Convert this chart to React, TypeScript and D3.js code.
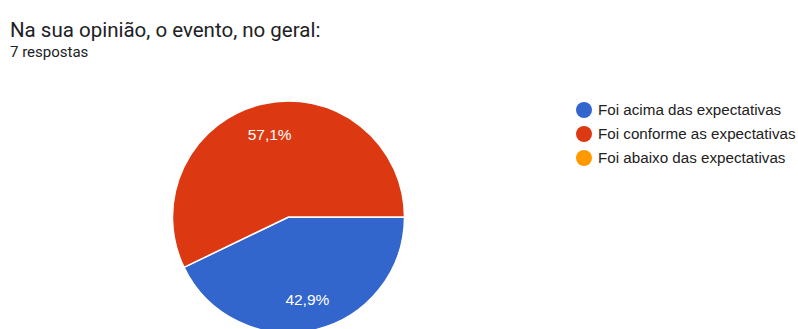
import React, { useEffect } from "react";
import * as d3 from "d3";

const title = "Na sua opinião, o evento, no geral:";
const subtitle = "7 respostas";
const categories = ["Foi acima das expectativas", "Foi conforme as expectativas", "Foi abaixo das expectativas"];
const values = [3, 4, 0];
const colors = ["#3366cc", "#dc3912", "#ff9900"];

const W = 798;
const H = 329;

export default function App() {
  useEffect(() => {
    document.body.style.margin = "0";
  }, []);

  const cx = 288.5;
  const cy = 217;
  const R = 116;
  const total = d3.sum(values);

  const pie = d3
    .pie<number>()
    .sort(null)
    .startAngle(Math.PI / 2)
    .endAngle(Math.PI / 2 + 2 * Math.PI)
    .value((d) => d);
  const arcs = pie(values);
  const arc = d3.arc<d3.PieArcDatum<number>>().innerRadius(0).outerRadius(R);
  const labelArc = d3.arc<d3.PieArcDatum<number>>().innerRadius(R * 0.73).outerRadius(R * 0.73);

  const legendY = d3.scaleBand<number>().domain(d3.range(categories.length)).range([98, 170]);
  const fmt = (v: number) => ((v / total) * 100).toFixed(1).replace(".", ",") + "%";

  return (
    <svg width={W} height={H} style={{ display: "block", fontFamily: "Roboto, Arial, sans-serif" }}>
      <rect width={W} height={H} fill="#ffffff" />
      <text x={10} y={37} fontSize={20.5} fill="#202124">
        {title}
      </text>
      <text x={10} y={57} fontSize={15} fill="#202124">
        {subtitle}
      </text>
      <g transform={`translate(${cx},${cy})`}>
        {arcs.map((a, i) =>
          a.value > 0 ? (
            <path key={i} d={arc(a) || ""} fill={colors[i]} stroke="#ffffff" strokeWidth={1.5} />
          ) : null
        )}
        {arcs.map((a, i) => {
          if (a.value <= 0) return null;
          const [x, y] = labelArc.centroid(a);
          return (
            <text
              key={i}
              x={x}
              y={y}
              dy="0.35em"
              textAnchor="middle"
              fontSize={15.5}
              fontFamily="'Liberation Sans', Arial, sans-serif"
              fill="#ffffff"
            >
              {fmt(a.value)}
            </text>
          );
        })}
      </g>
      {categories.map((c, i) => {
        const y = (legendY(i) || 0) + legendY.bandwidth() / 2;
        return (
          <g key={c}>
            <circle cx={584} cy={y} r={8} fill={colors[i]} />
            <text
              x={598}
              y={y}
              dy="0.35em"
              fontSize={15.2}
              fontFamily="'Liberation Sans', Arial, sans-serif"
              fill="#222222"
            >
              {c}
            </text>
          </g>
        );
      })}
    </svg>
  );
}
